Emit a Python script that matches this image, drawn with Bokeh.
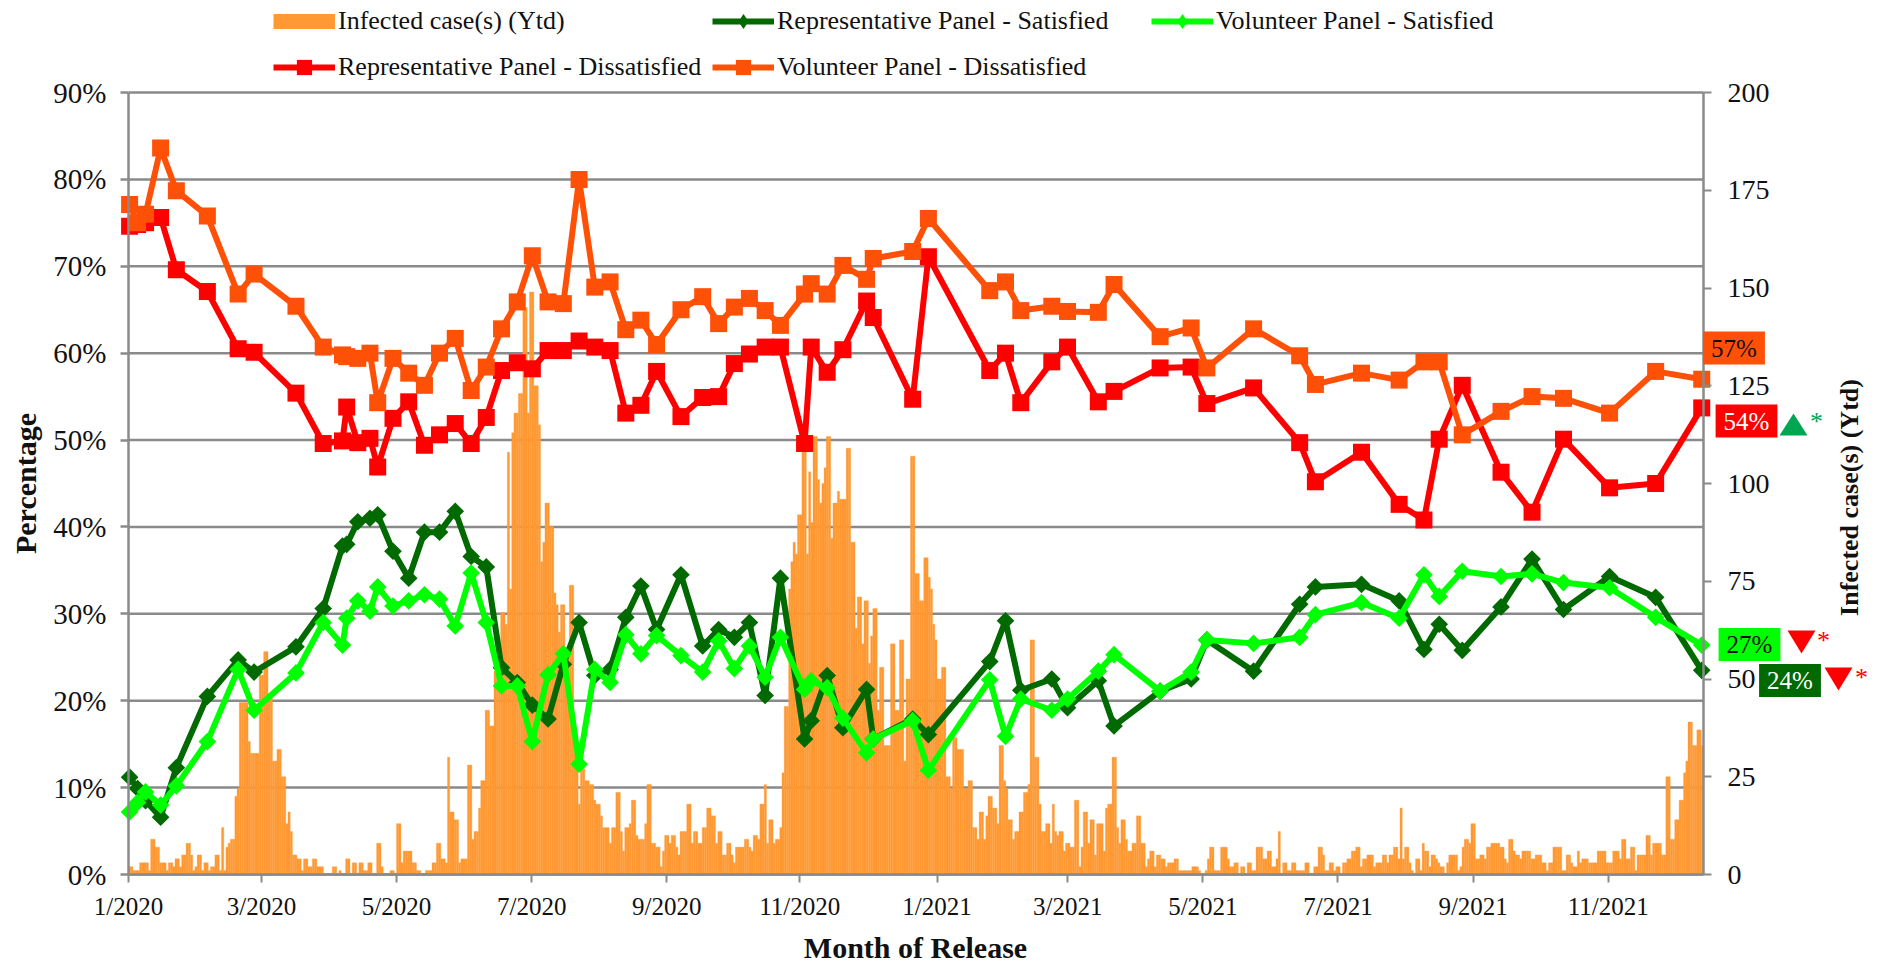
from bokeh.plotting import figure
from bokeh.models import (Range1d, LinearAxis, FixedTicker, Legend, LegendItem, Label,
                          PolyAnnotation)
from bokeh.embed import file_html
from bokeh.resources import INLINE
import math

# ---- data ---------------------------------------------------------------
panel_days = [0.5,4.1,7.7,14.5,21.6,35.6,49.5,56.7,75.6,87.9,96.6,98.5,103.5,109,112.5,119.4,126.5,133.6,
    140.4,147.5,154.7,161.5,168.4,175.5,182.3,189.4,196.3,203.4,210.5,217.4,224.5,231.3,238.4,249.4,259.2,
    266.4,273.5,280.3,287.4,294.3,305.2,308.2,315.4,322.5,333.2,336.2,354,361.1,
    388.8,395.9,402.8,416.8,423.9,437.8,444.9,465.7,479.7,486.8,507.9,528.7,535.8,556.6,573.6,584.8,591.7,
    602.1,619.6,633.6,647.8,668.6,689.4,710.2]

vol_dissatisfied = [77.1,75,76,83.6,78.7,75.8,66.8,69.1,65.4,60.7,59.8,59.6,59.4,60,54.3,59.4,57.7,56.3,60,61.7,
    55.7,58.4,62.8,65.9,71.2,65.9,65.7,80,67.6,68.2,62.7,63.8,61,65,66.5,63.4,65.3,66.3,64.9,63.2,66.8,68,66.8,
    70.1,68.5,70.9,71.7,75.5,
    67.2,68.2,64.9,65.4,64.8,64.7,67.9,61.9,62.9,58.3,62.8,59.7,56.4,57.7,56.9,59,59,50.6,53.3,55,54.8,53.1,57.9,57]

rep_dissatisfied = [74.6,74.8,75,75.6,69.6,67.1,60.5,60.1,55.4,49.6,49.9,53.8,49.7,50.2,46.9,52.5,54.4,49.4,50.6,
    51.9,49.6,52.6,58,58.9,58.2,60.3,60.3,61.4,60.7,60.3,53.1,54,57.9,52.7,54.9,55,58.8,59.9,60.7,60.7,49.6,60.7,
    57.8,60.4,66,64.1,54.7,71.1,
    58,60,54.3,59,60.7,54.4,55.6,58.3,58.4,54.2,56,49.7,45.2,48.6,42.6,40.8,50.1,56.3,46.3,41.7,50.1,44.5,45,53.7]

rep_satisfied = [11.2,9.9,8.5,6.6,12.3,20.5,24.7,23.3,26.2,30.6,37.8,38,40.6,41,41.4,37.2,34.1,39.4,39.4,41.8,36.6,
    35.4,23.8,22.1,19.5,17.9,24.2,29,22.9,23.6,29.6,33.2,28.2,34.5,26.3,28.2,27.3,29,20.6,34.1,15.6,17.7,22.9,16.9,
    21.3,15.6,17.9,16.1,
    24.5,29.2,21.2,22.5,19.2,22.3,17.1,21.1,22.5,27,23.4,31.1,33.1,33.4,31.5,25.9,28.8,25.8,30.8,36.3,30.5,34.3,31.9,23.5]

vol_satisfied = [7.2,8.3,9.5,8,10.2,15.3,23.6,18.9,23.2,29,26.4,29.5,31.5,30.3,33.1,30.9,31.5,32.2,31.7,28.6,34.7,29,
    21.7,21.7,15.3,23,25.4,12.7,23.6,22.1,27.6,25.4,27.5,25.2,23.3,26.9,23.7,26.3,22.7,27.3,21.3,22.3,21.5,18,14,15.6,
    17.7,12,
    22.4,15.9,20.2,18.9,20.2,23.4,25.3,21.1,23.3,27,26.6,27.3,29.9,31.3,29.5,34.5,32,34.9,34.3,34.6,33.6,33,29.6,26.4]

infected_cases = [
    2,2,1,1,1,3,3,3,3,1, 9,9,7,7,3,3,3,1,3,3, 2,4,4,2,5,5,8,8,5,1, 2,5,5,1,3,3,1,2,2,5,
    5,1,12,1,7,8,9,9,20,22, 44,44,44,44,34,31,31,31,31,51, 51,57,57,46,46,29,29,32,32,25,
    25,13,16,11,5,5,4,4,1,4, 4,2,2,4,4,2,2,2,0,0, 0,0,2,2,0,1,0,0,4,4, 0,3,3,0,3,3,1,1,3,3,
    0,0,8,8,2,0,0,0,1,1, 0,13,13,3,6,6,6,6,3,3, 1,1,0,0,1,1,1,3,3,8, 8,4,4,3,30,16,16,14,14,3,
    4,4,4,28,28,9,11,11,17,24, 24,42,42,38,38,52,52,52,67,67, 64,108,73,113,118,118,123,123,145,145,
    118,149,149,125,125,115,80,85,95,95, 89,89,72,69,62,69,69,58,58,74, 74,35,30,18,27,27,24,24,23,23,
    19,18,18,15,12,12,12,8,12,12, 21,21,11,6,12,12,13,19,19,10, 9,9,9,13,23,23,8,8,7,7,
    2,6,10,10,8,10,10,7,5,11, 11,11,18,18,8,11,11,8,8,12, 12,17,17,15,15,8,11,11,5,5,
    8,8,5,3,7,7,7,7,9,9, 7,6,10,10,9,18,18,23,8,14, 14,8,9,9,12,26,43,43,73,80,
    85,82,92,92,109,109,82,103,90,112, 112,101,95,100,104,112,112,86,95,95, 98,96,96,96,109,109,85,85,63,71,
    71,59,70,70,54,61,68,68,42,53, 53,33,33,33,59,59,42,42,60,60, 29,50,50,107,107,77,77,70,70,81,
    81,76,73,64,60,50,50,53,53,25, 25,22,35,35,32,32,32,22,22,24, 24,12,12,9,16,16,9,15,20,20,
    17,17,13,33,33,24,22,14,14,9, 11,11,16,16,21,21,23,60,60,30, 30,18,11,11,13,13,8,18,11,10,
    11,11,6,8,8,7,7,19,19,2, 7,16,16,8,14,14,5,13,13,13, 6,17,18,18,30,30,12,8,14,14,
    9,6,6,8,8,15,15,8,8,2, 4,6,6,2,5,5,4,4,2,3, 3,3,4,4,1,1,1,1,1,1, 2,2,2,1,0,0,1,4,7,7,
    1,1,1,7,7,7,4,2,2,3, 3,0,2,2,0,3,3,1,1,7, 7,7,4,4,6,6,2,2,4,11, 0,3,3,1,1,3,3,1,1,1,
    1,3,3,0,0,2,2,7,7,5, 1,1,3,3,1,2,2,0,3,3, 4,4,6,6,7,7,2,4,4,5, 5,5,2,3,3,3,5,5,3,5,
    5,7,7,4,17,4,7,7,3,1, 0,4,4,1,8,6,6,2,5,5, 4,3,2,2,0,3,5,5,5,5, 1,2,7,9,9,8,13,13,4,4,
    5,5,4,7,7,8,8,8,8,7, 7,4,3,9,9,6,5,5,4,6, 6,6,6,4,4,5,5,5,3,3, 1,3,3,7,7,7,7,1,1,5,
    5,3,2,2,6,3,4,4,4,3, 3,3,3,6,6,6,6,3,3,3, 6,6,6,4,9,9,4,4,7,7, 1,5,5,5,5,10,10,5,8,8,
    8,8,5,5,25,25,9,9,14,14, 19,19,26,29,39,39,33,33,37,37,33]

month_ticks = [0,60,121,182,243,303,365,424,485,546,607,668]
month_labels = ["1/2020","3/2020","5/2020","7/2020","9/2020","11/2020",
                "1/2021","3/2021","5/2021","7/2021","9/2021","11/2021"]
pct_ticks = [0,10,20,30,40,50,60,70,80,90]
case_ticks = [0,25,50,75,100,125,150,175,200]

SERIF = "Liberation Serif"
INK = "#111111"
GRID = "#8a8a8a"
C_BAR, C_RD, C_VD, C_RS, C_VS = "#FF9933", "#FF0000", "#FF5008", "#006A00", "#00FF00"

# The frame fills the whole canvas, so legend, titles and callouts outside the axes'
# span are not cut; axes sit at fixed locations and are bounded to the real span.
W, H = 1883, 963
LEFT, RIGHT, TOP, BOTTOM = 128, 1703, 92, 874
PX_DAY = (RIGHT - LEFT) / 711
PX_PCT = (BOTTOM - TOP) / 90
PX_CASE = (BOTTOM - TOP) / 200

p = figure(width=W, height=H,
           x_range=Range1d(-LEFT / PX_DAY, (W - LEFT) / PX_DAY),
           y_range=Range1d(-(H - BOTTOM) / PX_PCT, BOTTOM / PX_PCT),
           x_axis_location=None, y_axis_location=None,
           output_backend="svg", toolbar_location=None,
           min_border_left=0, min_border_right=0, min_border_top=0, min_border_bottom=0)
p.extra_y_ranges = {"cases": Range1d(-(H - BOTTOM) / PX_CASE, BOTTOM / PX_CASE)}
p.outline_line_color = None
p.background_fill_color = "white"
p.border_fill_color = "white"
p.xgrid.visible = False
p.ygrid.visible = False

p.segment(x0=[0] * len(pct_ticks), y0=pct_ticks, x1=[711] * len(pct_ticks), y1=pct_ticks,
          line_color=GRID, line_width=2.5, level="underlay")

days = [i + 0.5 for i in range(len(infected_cases))]
bars = p.vbar(x=days, top=infected_cases, width=1.0, y_range_name="cases",
              fill_color=C_BAR, line_color=C_BAR, line_width=0.3)

def series(y, color, marker, size, angle=0.0):
    l = p.line(panel_days, y, line_color=color, line_width=6, line_join="round")
    s = p.scatter(panel_days, y, marker=marker, size=size, angle=angle,
                  fill_color=color, line_color=color, line_width=0)
    return [l, s]

def key_marker(color):
    return p.scatter([float("nan")], [float("nan")], marker="diamond", size=10,
                     fill_color=color, line_color=color, line_width=0)

r_rs = series(rep_satisfied, C_RS, "square", 12.5, math.pi / 4)
r_vs = series(vol_satisfied, C_VS, "square", 12.5, math.pi / 4)
r_rd = series(rep_dissatisfied, C_RD, "square", 17)
r_vd = series(vol_dissatisfied, C_VD, "square", 17)
swatch = p.line([float("nan")], [float("nan")], line_color=C_BAR, line_width=15, y_range_name="cases")

legend = Legend(items=[
    LegendItem(label="Infected case(s) (Ytd)", renderers=[swatch]),
    LegendItem(label="Representative Panel - Satisfied", renderers=[r_rs[0], key_marker(C_RS)]),
    LegendItem(label="Volunteer Panel - Satisfied", renderers=[r_vs[0], key_marker(C_VS)]),
    LegendItem(label="Representative Panel - Dissatisfied", renderers=r_rd),
    LegendItem(label="Volunteer Panel - Dissatisfied", renderers=r_vd),
], location=(LEFT + 145, H - BOTTOM + 788), ncols=3, orientation="horizontal", padding=0, margin=0, spacing=8,
   glyph_width=62, glyph_height=38, label_standoff=3, label_width=366, label_height=20,
   label_text_font=SERIF, label_text_font_size="26px", label_text_color=INK,
   border_line_color=None, background_fill_alpha=0)
p.add_layout(legend, "center")

def style_axis(a, major_size, standoff, tick_w=2.0):
    a.major_label_text_font = SERIF
    a.major_label_text_font_size = major_size
    a.major_label_text_color = INK
    a.major_label_standoff = standoff
    a.major_tick_out = 8
    a.major_tick_in = 0
    a.minor_tick_out = 0
    a.minor_tick_in = 0
    a.axis_line_color = GRID
    a.axis_line_width = 2.5
    a.major_tick_line_color = GRID
    a.major_tick_line_width = tick_w

ax = LinearAxis(ticker=FixedTicker(ticks=month_ticks), fixed_location=0, bounds=(0, 711),
                major_label_overrides=dict(zip(month_ticks, month_labels)))
style_axis(ax, "25px", 10)
p.add_layout(ax, "below")

ay = LinearAxis(ticker=FixedTicker(ticks=pct_ticks), fixed_location=0, bounds=(0, 90),
                major_label_overrides={v: f"{v}%" for v in pct_ticks})
style_axis(ay, "29px", 14, 2.5)
p.add_layout(ay, "left")

ar = LinearAxis(y_range_name="cases", ticker=FixedTicker(ticks=case_ticks), fixed_location=711, bounds=(0, 200))
style_axis(ar, "28px", 16)
p.add_layout(ar, "right")

# titles and callouts, placed by page pixels converted to the left-axis data space
def dx(px): return (px - LEFT) / PX_DAY
def dy(py): return (BOTTOM - py) / PX_PCT

def title(text, cx, cy, size, angle=0.0):
    p.add_layout(Label(x=dx(cx), y=dy(cy), text=text, angle=angle, text_align="center", text_baseline="middle",
                       text_font=SERIF, text_font_size=size, text_font_style="bold", text_color=INK))

title("Month of Release", 915, 947, "30px")
title("Percentage", 25, 483, "30px", math.pi / 2)
title("Infected case(s) (Ytd)", 1849, 497, "26px", math.pi / 2)

def box(text, cx, cy, fill, color):
    p.add_layout(Label(x=dx(cx), y=dy(cy), text=text, text_align="center", text_baseline="middle",
                       text_font=SERIF, text_font_size="25px", text_color=color,
                       background_fill_color=fill, padding=(8, 3)))

def tri(cx, top, bottom, up, color):
    xs = [dx(cx - 14), dx(cx + 14), dx(cx)]
    ys = [dy(bottom), dy(bottom), dy(top)] if up else [dy(top), dy(top), dy(bottom)]
    p.add_layout(PolyAnnotation(xs=xs, ys=ys, fill_color=color, fill_alpha=1, line_color=color, line_alpha=0))

def star(cx, cy, color):
    p.add_layout(Label(x=dx(cx), y=dy(cy), text="*", text_align="center", text_baseline="middle",
                       text_font=SERIF, text_font_size="26px", text_color=color))

box("57%", 1733.5, 347.5, "#FF5008", INK)
box("54%", 1746, 420.5, "#FF0000", "#FFFFFF")
box("27%", 1749, 644, "#00FF00", INK)
box("24%", 1789.5, 680, "#006A00", "#FFFFFF")
tri(1793, 413, 435, True, "#00A651")
tri(1801, 630, 653, False, "#FF0000")
tri(1838, 667, 690, False, "#FF0000")
star(1816, 421, "#00A651")
star(1823, 640, "#FF0000")
star(1861, 677, "#FF0000")

open("out.html", "w").write(file_html(p, INLINE))
